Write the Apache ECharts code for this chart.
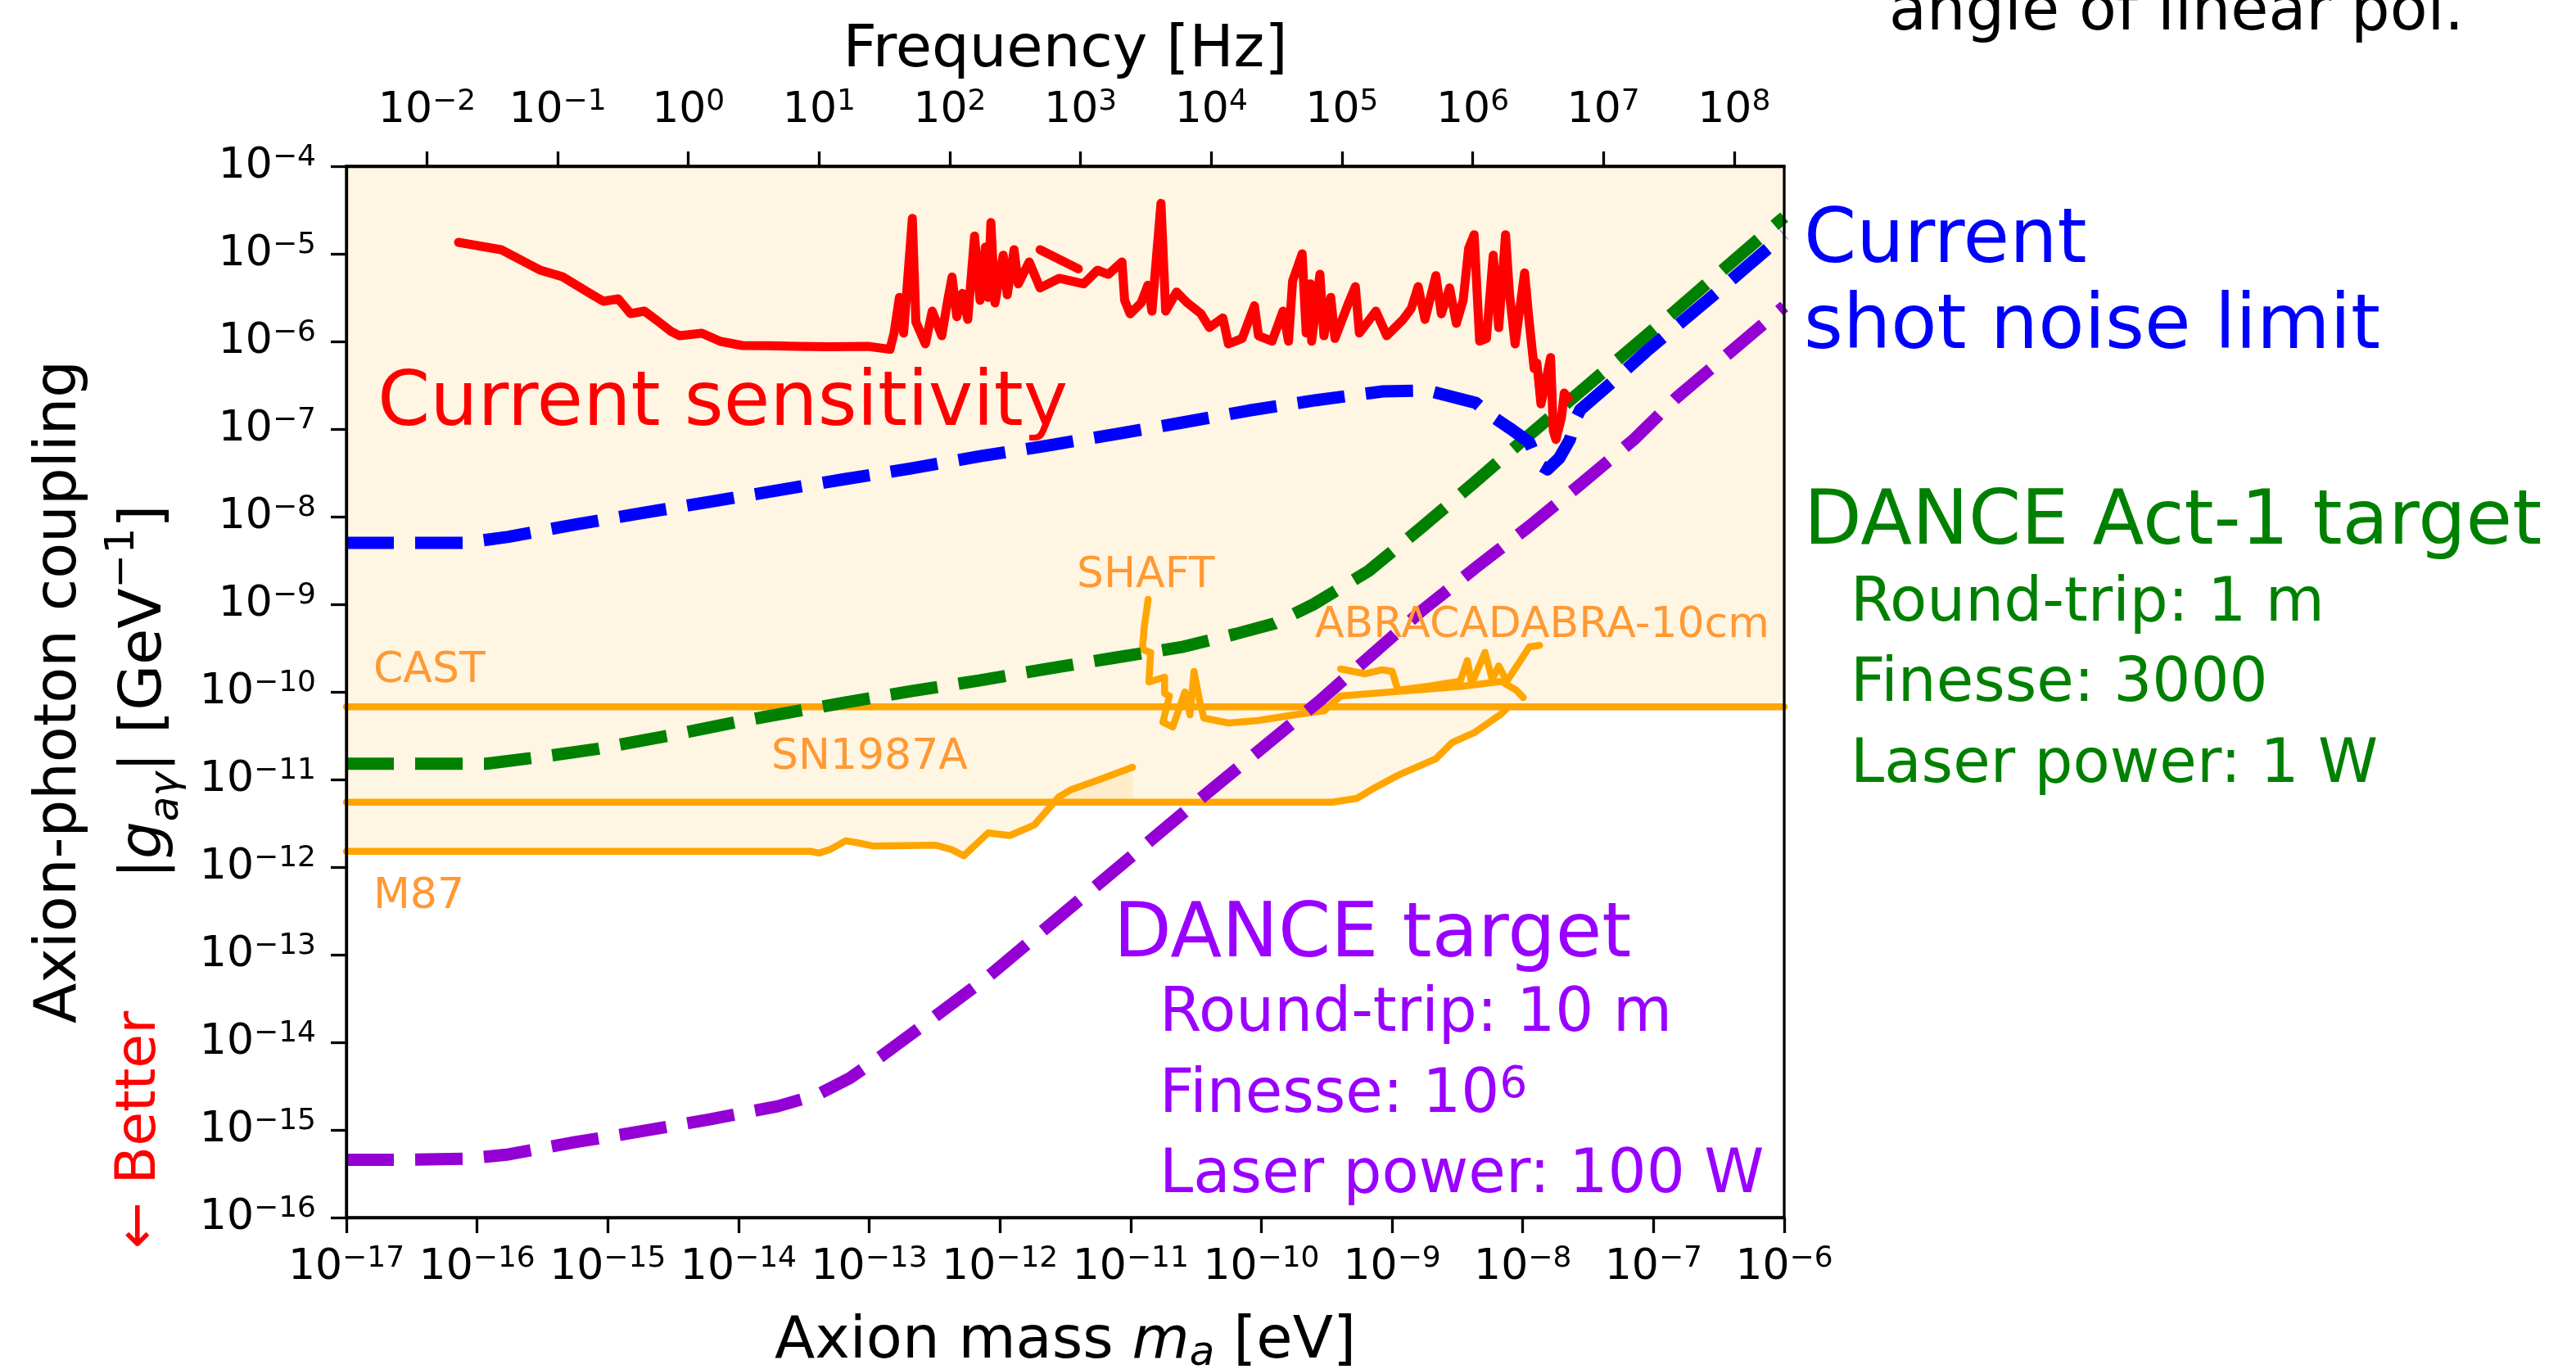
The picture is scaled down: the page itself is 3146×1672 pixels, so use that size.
<!DOCTYPE html>
<html>
<head>
<meta charset="utf-8">
<script src="https://cdn.jsdelivr.net/npm/echarts@6/dist/echarts.min.js"></script>
<style>
html,body{margin:0;padding:0;background:#fff;}
#chart{width:3146px;height:1672px;}
</style>
</head>
<body>
<div id="chart"></div>
<script>
// ---------- DATA (log10 values) ----------
// tick exponents
const massTickExp = [-17,-16,-15,-14,-13,-12,-11,-10,-9,-8,-7,-6];
const couplingTickExp = [-16,-15,-14,-13,-12,-11,-10,-9,-8,-7,-6,-5,-4];
const freqTickExp = [-2,-1,0,1,2,3,4,5,6,7,8];
const LOG10_HZ_PER_EV = 14.3834; // f = m c^2 / h

// Current sensitivity (red)
const redLm = [-16.142,-15.816,-15.515,-15.346,-15.14,-15.033,-14.92,-14.826,-14.72,-14.62,-14.513,-14.45,-14.28,-14.137,-13.97,-13.75,-13.554,-13.3,-13.009,-12.841,-12.81,-12.769,-12.737,-12.67,-12.643,-12.57,-12.518,-12.445,-12.403,-12.366,-12.33,-12.288,-12.246,-12.194,-12.152,-12.111,-12.09,-12.069,-12.038,-11.975,-11.944,-11.892,-11.86,-11.776,-11.693,-11.547,-11.359,-11.254,-11.171,-11.066,-11.046,-11.004,-10.92,-10.868,-10.837,-10.768,-10.732,-10.649,-10.565,-10.461,-10.398,-10.294,-10.252,-10.147,-10.053,-10.022,-9.918,-9.834,-9.792,-9.761,-9.688,-9.657,-9.625,-9.615,-9.552,-9.521,-9.469,-9.437,-9.333,-9.281,-9.25,-9.124,-9.041,-8.915,-8.853,-8.8,-8.748,-8.665,-8.623,-8.56,-8.508,-8.456,-8.414,-8.372,-8.33,-8.278,-8.226,-8.184,-8.132,-8.101,-8.059,-7.986,-7.955,-7.913,-7.892,-7.861,-7.829,-7.787,-7.766,-7.746,-7.704,-7.683,-7.652];
const redLg = [-4.869,-4.953,-5.187,-5.262,-5.449,-5.542,-5.514,-5.682,-5.654,-5.766,-5.888,-5.935,-5.907,-6.0,-6.047,-6.05,-6.056,-6.06,-6.056,-6.09,-5.904,-5.498,-5.904,-4.595,-5.778,-6.028,-5.654,-5.935,-5.561,-5.265,-5.717,-5.452,-5.748,-4.797,-5.53,-4.922,-5.498,-4.642,-5.561,-5.016,-5.467,-4.953,-5.343,-5.093,-5.389,-5.28,-5.343,-5.187,-5.234,-5.093,-5.53,-5.685,-5.561,-5.358,-5.654,-4.424,-5.654,-5.436,-5.561,-5.685,-5.841,-5.732,-6.028,-5.966,-5.592,-5.935,-5.997,-5.654,-5.997,-5.311,-5.0,-5.904,-5.343,-5.997,-5.234,-5.935,-5.498,-5.966,-5.561,-5.374,-5.904,-5.654,-5.935,-5.748,-5.623,-5.374,-5.748,-5.249,-5.685,-5.389,-5.794,-5.53,-4.937,-4.782,-5.997,-5.966,-5.016,-5.841,-4.782,-5.467,-6.028,-5.218,-5.717,-6.308,-6.246,-6.713,-6.495,-6.184,-7.025,-7.119,-6.869,-6.589,-6.651];
const redSegLm = [-11.693,-11.4];
const redSegLg = [-4.953,-5.171];

// Current shot noise limit (blue)
const blueLm = [-17,-16.1,-15.76,-15.25,-14.74,-14.22,-13.7,-13.18,-12.68,-12.15,-11.64,-11.12,-10.62,-10.1,-9.58,-9.07,-8.73,-8.36,-8.25,-8.1,-7.95,-7.88,-7.81,-7.72,-7.64,-7.6,-7.56,-7.29,-7.06,-6.5,-6];
const blueLg = [-8.30,-8.30,-8.23,-8.09,-7.96,-7.83,-7.70,-7.57,-7.45,-7.31,-7.19,-7.06,-6.93,-6.79,-6.67,-6.57,-6.56,-6.70,-6.84,-6.99,-7.15,-7.40,-7.46,-7.33,-7.12,-6.9,-6.78,-6.43,-6.12,-5.42,-4.78];

// DANCE Act-1 target (green)
const greenLm = [-17,-16.1,-15.93,-15.5,-15.08,-14.5,-14.0,-13.18,-12.67,-12.16,-11.65,-11.12,-10.615,-10.2,-9.9,-9.6,-9.18,-8.78,-8.37,-8.03,-7.66,-7.18,-6.84,-6];
const greenLg = [-10.82,-10.82,-10.82,-10.74,-10.65,-10.49,-10.34,-10.12,-9.99,-9.87,-9.74,-9.61,-9.49,-9.34,-9.22,-9.0,-8.62,-8.13,-7.61,-7.17,-6.7,-6.09,-5.66,-4.58];

// DANCE target (purple)
const purpleLm = [-17,-16.5,-16.1,-15.76,-15.25,-14.8,-14.22,-13.7,-13.4,-13.15,-12.9,-12.6,-12.09,-11.3,-10.5,-9.56,-8.77,-8.35,-7.95,-7.55,-7.15,-6.83,-6];
const purpleLg = [-15.34,-15.34,-15.33,-15.28,-15.14,-15.03,-14.88,-14.73,-14.6,-14.41,-14.15,-13.82,-13.25,-12.26,-11.26,-10.11,-9.07,-8.57,-8.11,-7.62,-7.12,-6.65,-5.6];

// Existing limits (orange)
const castLm = [-17,-6];
const castLg = [-10.17,-10.17];
const snLm = [-17,-9.456,-9.268,-9.143,-8.955,-8.667,-8.541,-8.372,-8.165,-8.11];
const snLg = [-11.26,-11.26,-11.215,-11.103,-10.953,-10.766,-10.579,-10.467,-10.252,-10.17];
const m87Lm = [-17,-13.45,-13.385,-13.3,-13.18,-13.1,-12.965,-12.49,-12.37,-12.276,-12.09,-11.925,-11.737,-11.55,-11.46,-11.254,-10.985];
const m87Lg = [-11.82,-11.82,-11.84,-11.80,-11.70,-11.72,-11.76,-11.75,-11.80,-11.87,-11.61,-11.64,-11.52,-11.20,-11.12,-11.01,-10.86];
const shaftLm = [-10.866,-10.897,-10.91,-10.847,-10.86,-10.74,-10.74,-10.703,-10.753,-10.678,-10.584,-10.546,-10.515,-10.471,-10.44,-10.252,-10.026,-9.744,-9.519];
const shaftLg = [-8.944,-9.271,-9.514,-9.551,-9.888,-9.832,-10.019,-10.047,-10.346,-10.402,-10.0,-10.262,-9.766,-10.112,-10.299,-10.355,-10.327,-10.262,-10.215];
const abraLowLm = [-9.519,-9.394,-8.999,-8.479,-8.165,-8.05,-7.996];
const abraLowLg = [-10.215,-10.047,-10.0,-9.94,-9.88,-9.98,-10.065];
const abraUpLm = [-9.394,-9.206,-9.08,-8.999,-8.955,-8.717,-8.479,-8.424,-8.391,-8.289,-8.234,-8.184,-8.122,-7.95,-7.871];
const abraUpLg = [-9.738,-9.794,-9.748,-9.766,-9.981,-9.935,-9.879,-9.642,-9.907,-9.549,-9.86,-9.704,-9.879,-9.486,-9.47];

// ---------- helpers ----------
const FONT = 'DejaVu Sans';
const zip = (a, b) => a.map((v, i) => [v, b[i]]);
const MINUS = '\u2212';
const expLabel = v => {
  const n = Math.round(v);
  return '{b|10}{s|' + (n < 0 ? MINUS : '') + Math.abs(n) + '}';
};
const tickRich = {
  b: {fontFamily: FONT, fontSize: 52, lineHeight: 56, color: '#000', verticalAlign: 'middle'},
  s: {fontFamily: FONT, fontSize: 36, lineHeight: 27, color: '#000', verticalAlign: 'top'}
};
const axisLineStyle = {color: '#000', width: 3.3};

function lineSeries(lm, lg, color, width, dash, z) {
  return {
    type: 'line', data: zip(lm, lg), symbol: 'none', showSymbol: false, smooth: false,
    silent: true, z: z, clip: true, animation: false,
    lineStyle: {color: color, width: width, type: dash || 'solid',
                cap: dash ? 'butt' : 'round', join: 'round'}
  };
}
function polygonSeries(points, color, z) {
  return {
    type: 'custom', coordinateSystem: 'cartesian2d', silent: true, z: z, animation: false,
    data: [points[0]],
    encode: {x: 0, y: 1},
    renderItem: function (params, api) {
      const pts = points.map(p => api.coord(p));
      return {type: 'polygon', shape: {points: pts}, style: {fill: color}};
    }
  };
}

// fills (each layer alpha blended like the original)
const FILL = 'rgba(255,165,0,0.11)';
const castFillPts = [[-17, castLg[0]], [-6, castLg[1]], [-6, -4], [-17, -4]];
const snFillPts = zip(snLm, snLg).concat([[snLm[snLm.length - 1], castLg[0]], [-17, castLg[0]]]);
const m87FillPts = zip(m87Lm, m87Lg).concat([[m87Lm[m87Lm.length - 1], snLg[0]], [-17, snLg[0]]]);

// ---------- annotation texts ----------
const MID = 0.28; // baseline offset from text middle, in em
function txt(text, left, baseline, size, color, extra) {
  return Object.assign({
    type: 'text', x: left, y: baseline - MID * size, z: 100, silent: true,
    style: {text: text, fontFamily: FONT, fontSize: size, fill: color,
            align: 'left', verticalAlign: 'middle', textAlign: 'left', textVerticalAlign: 'middle'}
  }, extra || {});
}
const ORANGE_TXT = '#ff9933';
const PURPLE_TXT = '#9900ff';
const GREEN = '#008000';

const graphics = [
  txt('angle of linear pol.', 2307, 38, 75, '#000'),
  txt('Current sensitivity', 461, 521, 92, '#ff0000'),
  txt('Current', 2203, 322, 92, '#0000ff'),
  txt('shot noise limit', 2203, 427, 92, '#0000ff'),
  txt('DANCE Act-1 target', 2203, 666, 92, GREEN),
  txt('Round-trip: 1 m', 2260, 760, 74, GREEN),
  txt('Finesse: 3000', 2260, 858, 74, GREEN),
  txt('Laser power: 1 W', 2260, 957, 74, GREEN),
  txt('DANCE target', 1360, 1170, 92, PURPLE_TXT),
  txt('Round-trip: 10 m', 1416, 1261, 74, PURPLE_TXT),
  {
    type: 'text', x: 1416, y: 1360 - MID * 74, z: 100, silent: true,
    style: {text: '{a|Finesse: 10}{s|6}', fill: PURPLE_TXT, align: 'left', verticalAlign: 'middle',
      textAlign: 'left', textVerticalAlign: 'middle',
      rich: {a: {fontFamily: FONT, fontSize: 74, lineHeight: 80, fill: PURPLE_TXT, color: PURPLE_TXT, verticalAlign: 'middle'},
             s: {fontFamily: FONT, fontSize: 53, lineHeight: 53, fill: PURPLE_TXT, color: PURPLE_TXT, verticalAlign: 'top'}}}
  },
  txt('Laser power: 100 W', 1416, 1458, 74, PURPLE_TXT),
  txt('CAST', 456, 834, 52, ORANGE_TXT),
  txt('M87', 456, 1110, 52, ORANGE_TXT),
  txt('SN1987A', 942, 940, 52, ORANGE_TXT),
  txt('SHAFT', 1315, 718, 52, ORANGE_TXT),
  txt('ABRACADABRA-10cm', 1606, 779, 52, ORANGE_TXT),
  {
    type: 'text', x: 171, y: 1380, rotation: Math.PI / 2, z: 100, silent: true,
    style: {text: '\u2190 Better', fontFamily: FONT, fontSize: 68, fill: '#ff0000',
            align: 'center', verticalAlign: 'middle', textAlign: 'center', textVerticalAlign: 'middle'}
  }
];

// ---------- chart ----------
const chart = echarts.init(document.getElementById('chart'), null, {renderer: 'canvas'});
chart.setOption({
  animation: false,
  backgroundColor: '#ffffff',
  textStyle: {fontFamily: FONT},
  grid: {left: 423, top: 203, width: 1756, height: 1284, containLabel: false,
         outerBoundsMode: 'none', show: true, borderColor: '#000', borderWidth: 3.3, z: 10},
  xAxis: [
    {
      type: 'value', position: 'bottom', min: -17, max: -6, interval: 1, z: 10,
      axisLine: {show: true, onZero: false, lineStyle: axisLineStyle},
      axisTick: {show: true, inside: false, length: 19, lineStyle: axisLineStyle},
      axisLabel: {show: true, margin: 33, formatter: expLabel, rich: tickRich, color: '#000'},
      splitLine: {show: false},
      name: '{t|Axion mass }{mi|m}{sub|a}{t| [eV]}',
      nameLocation: 'middle', nameGap: 112,
      nameTextStyle: {
        color: '#000',
        rich: {
          t: {fontFamily: FONT, fontSize: 72, lineHeight: 80, color: '#000', verticalAlign: 'middle'},
          mi: {fontFamily: FONT, fontSize: 72, lineHeight: 80, fontStyle: 'italic', color: '#000', verticalAlign: 'middle'},
          sub: {fontFamily: FONT, fontSize: 50, lineHeight: 45, fontStyle: 'italic', color: '#000', verticalAlign: 'bottom'}
        }
      }
    },
    {
      type: 'value', position: 'top', min: -17 + LOG10_HZ_PER_EV, max: -6 + LOG10_HZ_PER_EV, z: 10,
      axisLine: {show: true, onZero: false, lineStyle: axisLineStyle},
      axisTick: {show: true, inside: false, length: 18, lineStyle: axisLineStyle, customValues: freqTickExp},
      axisLabel: {show: true, margin: 40, formatter: expLabel, rich: tickRich, color: '#000', customValues: freqTickExp},
      splitLine: {show: false},
      name: 'Frequency [Hz]', nameLocation: 'middle', nameGap: 78,
      nameTextStyle: {fontFamily: FONT, fontSize: 72, lineHeight: 80, color: '#000'}
    }
  ],
  yAxis: {
    type: 'value', min: -16, max: -4, interval: 1, z: 10,
    axisLine: {show: true, onZero: false, lineStyle: axisLineStyle},
    axisTick: {show: true, inside: false, length: 19, lineStyle: axisLineStyle},
    axisLabel: {show: true, margin: 37, formatter: expLabel, rich: tickRich, color: '#000'},
    splitLine: {show: false},
    name: '{t|Axion-photon coupling}\n{t||}{gi|g}{sub|a\u03b3}{t|| [GeV}{sup|' + MINUS + '1}{t|]}',
    nameLocation: 'middle', nameRotate: 90, nameGap: 194,
    nameTextStyle: {
      color: '#000',
      rich: {
        t: {fontFamily: FONT, fontSize: 72, lineHeight: 104, color: '#000', verticalAlign: 'middle'},
        gi: {fontFamily: FONT, fontSize: 72, lineHeight: 104, fontStyle: 'italic', color: '#000', verticalAlign: 'middle'},
        sub: {fontFamily: FONT, fontSize: 50, lineHeight: 66, fontStyle: 'italic', color: '#000', verticalAlign: 'bottom'},
        sup: {fontFamily: FONT, fontSize: 50, lineHeight: 66, color: '#000', verticalAlign: 'top'}
      }
    }
  },
  series: [
    polygonSeries(castFillPts, FILL, 1),
    polygonSeries(snFillPts, FILL, 1),
    polygonSeries(m87FillPts, FILL, 1),
    lineSeries(castLm, castLg, '#ffa500', 8.5, null, 2),
    lineSeries(snLm, snLg, '#ffa500', 8.5, null, 2),
    lineSeries(m87Lm, m87Lg, '#ffa500', 8.5, null, 2),
    lineSeries(shaftLm, shaftLg, '#ffa500', 8.5, null, 2),
    lineSeries(abraLowLm, abraLowLg, '#ffa500', 8.5, null, 2),
    lineSeries(abraUpLm, abraUpLg, '#ffa500', 8.5, null, 2),
    lineSeries(greenLm, greenLg, '#008000', 15, [58, 26], 3),
    lineSeries(blueLm, blueLg, '#0000ff', 15, [58, 26], 4),
    lineSeries(purpleLm, purpleLg, '#9400d3', 15, [58, 26], 5),
    lineSeries(redLm, redLg, '#ff0000', 11, null, 6),
    lineSeries(redSegLm, redSegLg, '#ff0000', 11, null, 6)
  ],
  graphic: graphics
});
</script>
</body>
</html>
